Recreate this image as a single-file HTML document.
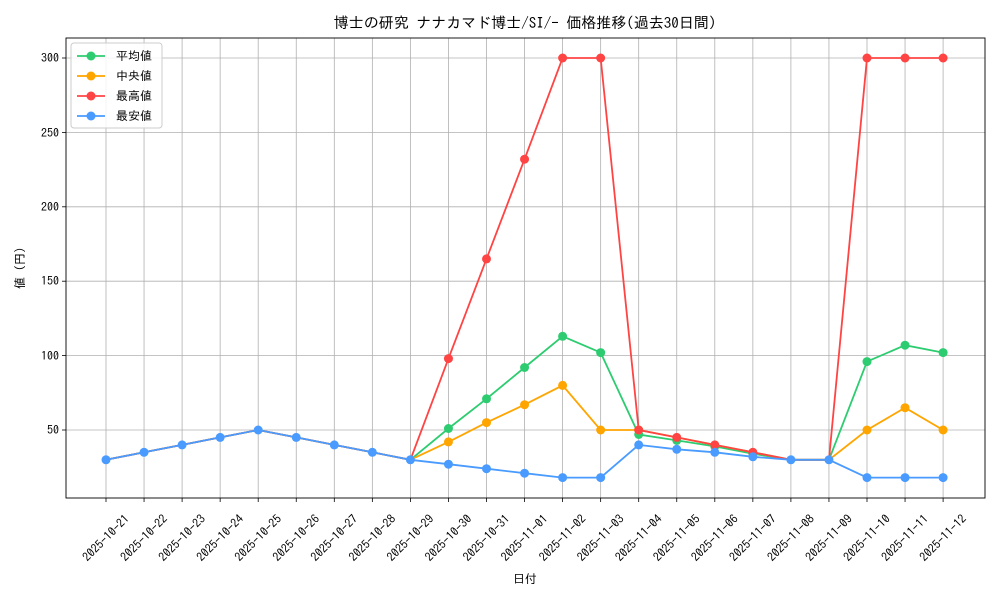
<!DOCTYPE html>
<html><head><meta charset="utf-8"><style>
body{margin:0;background:#fff;}
svg{display:block;font-family:"IPAGothic","Noto Sans CJK JP","Liberation Sans",sans-serif;}
</style></head><body>
<svg width="1000" height="600" viewBox="0 0 1000 600">
<rect width="1000" height="600" fill="#fff"/>
<g stroke="#b0b0b0" stroke-width="0.8">
<line x1="106" y1="38" x2="106" y2="498"/><line x1="144.05" y1="38" x2="144.05" y2="498"/><line x1="182.1" y1="38" x2="182.1" y2="498"/><line x1="220.15" y1="38" x2="220.15" y2="498"/><line x1="258.2" y1="38" x2="258.2" y2="498"/><line x1="296.25" y1="38" x2="296.25" y2="498"/><line x1="334.3" y1="38" x2="334.3" y2="498"/><line x1="372.35" y1="38" x2="372.35" y2="498"/><line x1="410.4" y1="38" x2="410.4" y2="498"/><line x1="448.45" y1="38" x2="448.45" y2="498"/><line x1="486.5" y1="38" x2="486.5" y2="498"/><line x1="524.55" y1="38" x2="524.55" y2="498"/><line x1="562.6" y1="38" x2="562.6" y2="498"/><line x1="600.65" y1="38" x2="600.65" y2="498"/><line x1="638.7" y1="38" x2="638.7" y2="498"/><line x1="676.75" y1="38" x2="676.75" y2="498"/><line x1="714.8" y1="38" x2="714.8" y2="498"/><line x1="752.85" y1="38" x2="752.85" y2="498"/><line x1="790.9" y1="38" x2="790.9" y2="498"/><line x1="828.95" y1="38" x2="828.95" y2="498"/><line x1="867" y1="38" x2="867" y2="498"/><line x1="905.05" y1="38" x2="905.05" y2="498"/><line x1="943.1" y1="38" x2="943.1" y2="498"/>
<line x1="66" y1="430" x2="985" y2="430"/><line x1="66" y1="355.6" x2="985" y2="355.6"/><line x1="66" y1="281.2" x2="985" y2="281.2"/><line x1="66" y1="206.8" x2="985" y2="206.8"/><line x1="66" y1="132.4" x2="985" y2="132.4"/><line x1="66" y1="58" x2="985" y2="58"/>
</g>
<rect x="66" y="38" width="919" height="460" fill="none" stroke="#000" stroke-width="0.9"/>
<g stroke="#000" stroke-width="0.8">
<line x1="62" y1="430" x2="66" y2="430"/><line x1="62" y1="355.6" x2="66" y2="355.6"/><line x1="62" y1="281.2" x2="66" y2="281.2"/><line x1="62" y1="206.8" x2="66" y2="206.8"/><line x1="62" y1="132.4" x2="66" y2="132.4"/><line x1="62" y1="58" x2="66" y2="58"/>
</g>
<g font-size="12" text-anchor="end" fill="#000">
<text x="59" y="434">50</text><text x="59" y="360">100</text><text x="59" y="285">150</text><text x="59" y="211">200</text><text x="59" y="137">250</text><text x="59" y="62">300</text>
</g>
<g font-size="12" text-anchor="middle" fill="#000">
<text transform="translate(106,538) rotate(-45)" y="4">2025-10-21</text><text transform="translate(144.05,538) rotate(-45)" y="4">2025-10-22</text><text transform="translate(182.1,538) rotate(-45)" y="4">2025-10-23</text><text transform="translate(220.15,538) rotate(-45)" y="4">2025-10-24</text><text transform="translate(258.2,538) rotate(-45)" y="4">2025-10-25</text><text transform="translate(296.25,538) rotate(-45)" y="4">2025-10-26</text><text transform="translate(334.3,538) rotate(-45)" y="4">2025-10-27</text><text transform="translate(372.35,538) rotate(-45)" y="4">2025-10-28</text><text transform="translate(410.4,538) rotate(-45)" y="4">2025-10-29</text><text transform="translate(448.45,538) rotate(-45)" y="4">2025-10-30</text><text transform="translate(486.5,538) rotate(-45)" y="4">2025-10-31</text><text transform="translate(524.55,538) rotate(-45)" y="4">2025-11-01</text><text transform="translate(562.6,538) rotate(-45)" y="4">2025-11-02</text><text transform="translate(600.65,538) rotate(-45)" y="4">2025-11-03</text><text transform="translate(638.7,538) rotate(-45)" y="4">2025-11-04</text><text transform="translate(676.75,538) rotate(-45)" y="4">2025-11-05</text><text transform="translate(714.8,538) rotate(-45)" y="4">2025-11-06</text><text transform="translate(752.85,538) rotate(-45)" y="4">2025-11-07</text><text transform="translate(790.9,538) rotate(-45)" y="4">2025-11-08</text><text transform="translate(828.95,538) rotate(-45)" y="4">2025-11-09</text><text transform="translate(867,538) rotate(-45)" y="4">2025-11-10</text><text transform="translate(905.05,538) rotate(-45)" y="4">2025-11-11</text><text transform="translate(943.1,538) rotate(-45)" y="4">2025-11-12</text>
</g>
<g stroke="#000" stroke-width="0.8">
<line x1="106" y1="498" x2="106" y2="502"/><line x1="144.05" y1="498" x2="144.05" y2="502"/><line x1="182.1" y1="498" x2="182.1" y2="502"/><line x1="220.15" y1="498" x2="220.15" y2="502"/><line x1="258.2" y1="498" x2="258.2" y2="502"/><line x1="296.25" y1="498" x2="296.25" y2="502"/><line x1="334.3" y1="498" x2="334.3" y2="502"/><line x1="372.35" y1="498" x2="372.35" y2="502"/><line x1="410.4" y1="498" x2="410.4" y2="502"/><line x1="448.45" y1="498" x2="448.45" y2="502"/><line x1="486.5" y1="498" x2="486.5" y2="502"/><line x1="524.55" y1="498" x2="524.55" y2="502"/><line x1="562.6" y1="498" x2="562.6" y2="502"/><line x1="600.65" y1="498" x2="600.65" y2="502"/><line x1="638.7" y1="498" x2="638.7" y2="502"/><line x1="676.75" y1="498" x2="676.75" y2="502"/><line x1="714.8" y1="498" x2="714.8" y2="502"/><line x1="752.85" y1="498" x2="752.85" y2="502"/><line x1="790.9" y1="498" x2="790.9" y2="502"/><line x1="828.95" y1="498" x2="828.95" y2="502"/><line x1="867" y1="498" x2="867" y2="502"/><line x1="905.05" y1="498" x2="905.05" y2="502"/><line x1="943.1" y1="498" x2="943.1" y2="502"/>
</g>
<text x="525" y="28" font-size="15" text-anchor="middle">博士の研究 ナナカマド博士/SI/- 価格推移(過去30日間)</text>
<text x="525" y="583" font-size="12" text-anchor="middle">日付</text>
<text transform="translate(24,268) rotate(-90)" font-size="12" text-anchor="middle">値 (円)</text>
<polyline fill="none" stroke="#2ecc71" stroke-width="1.8" points="106,459.8 144.05,452.3 182.1,444.9 220.15,437.4 258.2,430 296.25,437.4 334.3,444.9 372.35,452.3 410.4,459.8 448.45,428.5 486.5,398.8 524.55,367.5 562.6,336.3 600.65,352.6 638.7,434.5 676.75,440.4 714.8,446.4 752.85,453.8 790.9,459.8 828.95,459.8 867,361.6 905.05,345.2 943.1,352.6"/>
<g fill="#2ecc71"><circle cx="448.45" cy="428.5" r="4.5"/><circle cx="486.5" cy="398.8" r="4.5"/><circle cx="524.55" cy="367.5" r="4.5"/><circle cx="562.6" cy="336.3" r="4.5"/><circle cx="600.65" cy="352.6" r="4.5"/><circle cx="638.7" cy="434.5" r="4.5"/><circle cx="676.75" cy="440.4" r="4.5"/><circle cx="714.8" cy="446.4" r="4.5"/><circle cx="752.85" cy="453.8" r="4.5"/><circle cx="867" cy="361.6" r="4.5"/><circle cx="905.05" cy="345.2" r="4.5"/><circle cx="943.1" cy="352.6" r="4.5"/></g>
<polyline fill="none" stroke="#ffa500" stroke-width="1.8" points="106,459.8 144.05,452.3 182.1,444.9 220.15,437.4 258.2,430 296.25,437.4 334.3,444.9 372.35,452.3 410.4,459.8 448.45,441.9 486.5,422.6 524.55,404.7 562.6,385.4 600.65,430 638.7,430 676.75,437.4 714.8,444.9 752.85,452.3 790.9,459.8 828.95,459.8 867,430 905.05,407.7 943.1,430"/>
<g fill="#ffa500"><circle cx="448.45" cy="441.9" r="4.5"/><circle cx="486.5" cy="422.6" r="4.5"/><circle cx="524.55" cy="404.7" r="4.5"/><circle cx="562.6" cy="385.4" r="4.5"/><circle cx="600.65" cy="430" r="4.5"/><circle cx="638.7" cy="430" r="4.5"/><circle cx="867" cy="430" r="4.5"/><circle cx="905.05" cy="407.7" r="4.5"/><circle cx="943.1" cy="430" r="4.5"/></g>
<polyline fill="none" stroke="#ff4444" stroke-width="1.8" points="106,459.8 144.05,452.3 182.1,444.9 220.15,437.4 258.2,430 296.25,437.4 334.3,444.9 372.35,452.3 410.4,459.8 448.45,358.6 486.5,258.9 524.55,159.2 562.6,58 600.65,58 638.7,430 676.75,437.4 714.8,444.9 752.85,452.3 790.9,459.8 828.95,459.8 867,58 905.05,58 943.1,58"/>
<g fill="#ff4444"><circle cx="448.45" cy="358.6" r="4.5"/><circle cx="486.5" cy="258.9" r="4.5"/><circle cx="524.55" cy="159.2" r="4.5"/><circle cx="562.6" cy="58" r="4.5"/><circle cx="600.65" cy="58" r="4.5"/><circle cx="638.7" cy="430" r="4.5"/><circle cx="676.75" cy="437.4" r="4.5"/><circle cx="714.8" cy="444.9" r="4.5"/><circle cx="752.85" cy="452.3" r="4.5"/><circle cx="867" cy="58" r="4.5"/><circle cx="905.05" cy="58" r="4.5"/><circle cx="943.1" cy="58" r="4.5"/></g>
<polyline fill="none" stroke="#4a9bff" stroke-width="1.8" points="106,459.8 144.05,452.3 182.1,444.9 220.15,437.4 258.2,430 296.25,437.4 334.3,444.9 372.35,452.3 410.4,459.8 448.45,464.2 486.5,468.7 524.55,473.2 562.6,477.6 600.65,477.6 638.7,444.9 676.75,449.3 714.8,452.3 752.85,456.8 790.9,459.8 828.95,459.8 867,477.6 905.05,477.6 943.1,477.6"/>
<g fill="#4a9bff"><circle cx="106" cy="459.8" r="4.5"/><circle cx="144.05" cy="452.3" r="4.5"/><circle cx="182.1" cy="444.9" r="4.5"/><circle cx="220.15" cy="437.4" r="4.5"/><circle cx="258.2" cy="430" r="4.5"/><circle cx="296.25" cy="437.4" r="4.5"/><circle cx="334.3" cy="444.9" r="4.5"/><circle cx="372.35" cy="452.3" r="4.5"/><circle cx="410.4" cy="459.8" r="4.5"/><circle cx="448.45" cy="464.2" r="4.5"/><circle cx="486.5" cy="468.7" r="4.5"/><circle cx="524.55" cy="473.2" r="4.5"/><circle cx="562.6" cy="477.6" r="4.5"/><circle cx="600.65" cy="477.6" r="4.5"/><circle cx="638.7" cy="444.9" r="4.5"/><circle cx="676.75" cy="449.3" r="4.5"/><circle cx="714.8" cy="452.3" r="4.5"/><circle cx="752.85" cy="456.8" r="4.5"/><circle cx="790.9" cy="459.8" r="4.5"/><circle cx="828.95" cy="459.8" r="4.5"/><circle cx="867" cy="477.6" r="4.5"/><circle cx="905.05" cy="477.6" r="4.5"/><circle cx="943.1" cy="477.6" r="4.5"/></g>
<rect x="71" y="43" width="91" height="85" rx="3" fill="#fff" fill-opacity="0.85" stroke="#ccc"/>
<g stroke-width="1.8">
<line x1="77" y1="56" x2="105" y2="56" stroke="#2ecc71"/><circle cx="91" cy="56" r="4.5" fill="#2ecc71"/>
<line x1="77" y1="76" x2="105" y2="76" stroke="#ffa500"/><circle cx="91" cy="76" r="4.5" fill="#ffa500"/>
<line x1="77" y1="96" x2="105" y2="96" stroke="#ff4444"/><circle cx="91" cy="96" r="4.5" fill="#ff4444"/>
<line x1="77" y1="116" x2="105" y2="116" stroke="#4a9bff"/><circle cx="91" cy="116" r="4.5" fill="#4a9bff"/>
</g>
<g font-size="12" fill="#000">
<text x="116" y="60">平均値</text><text x="116" y="80">中央値</text><text x="116" y="100">最高値</text><text x="116" y="120">最安値</text>
</g>
</svg>
</body></html>
